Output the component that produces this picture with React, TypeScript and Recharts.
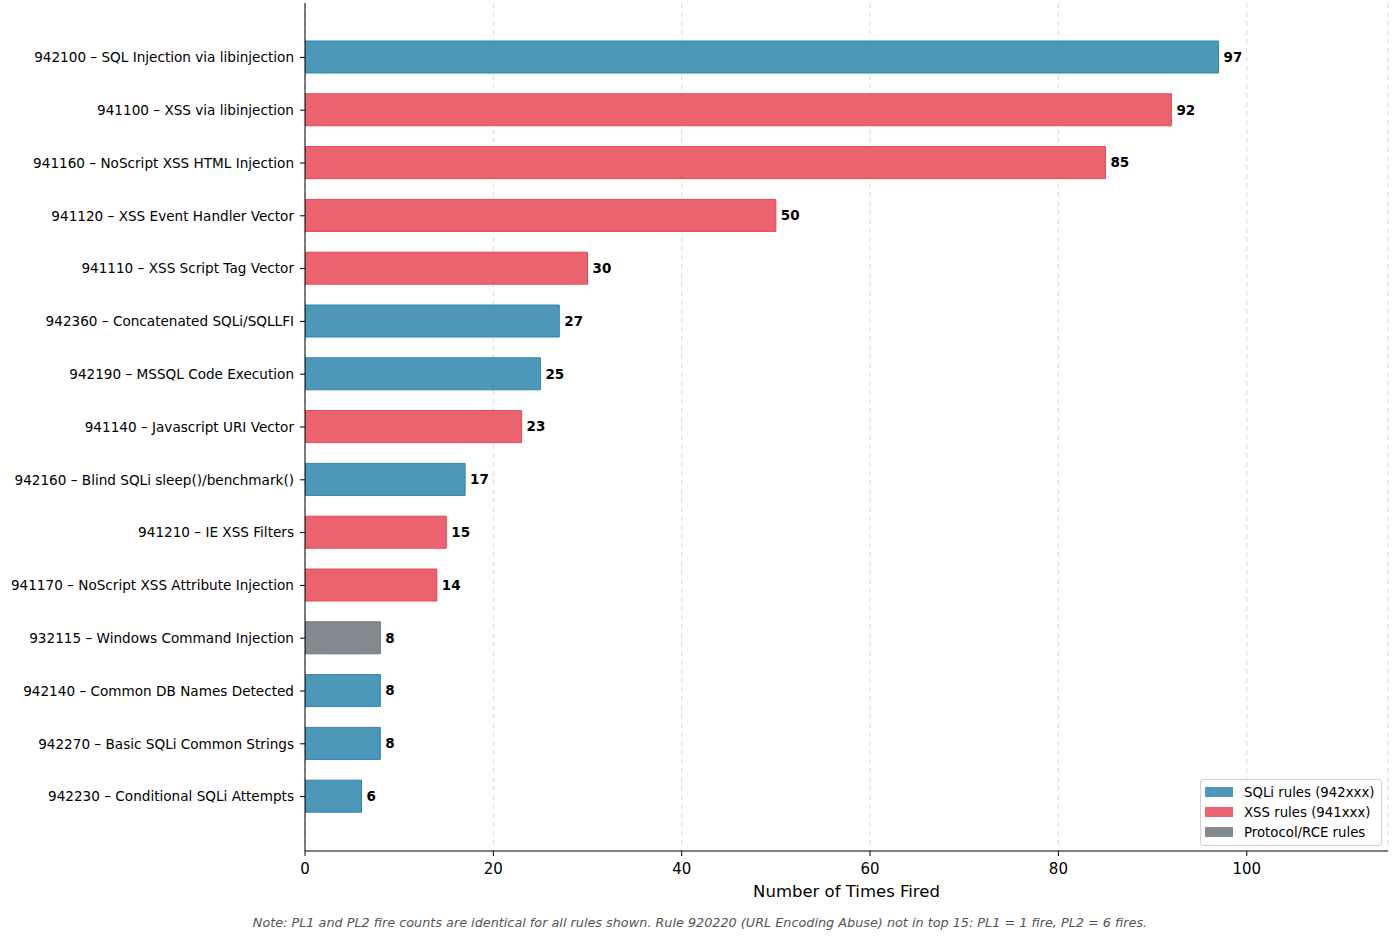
import React from 'react';
import { BarChart, Bar, XAxis, YAxis, CartesianGrid, Cell, LabelList } from 'recharts';

const ruleLabels = [
  '942100 – SQL Injection via libinjection',
  '941100 – XSS via libinjection',
  '941160 – NoScript XSS HTML Injection',
  '941120 – XSS Event Handler Vector',
  '941110 – XSS Script Tag Vector',
  '942360 – Concatenated SQLi/SQLLFI',
  '942190 – MSSQL Code Execution',
  '941140 – Javascript URI Vector',
  '942160 – Blind SQLi sleep()/benchmark()',
  '941210 – IE XSS Filters',
  '941170 – NoScript XSS Attribute Injection',
  '932115 – Windows Command Injection',
  '942140 – Common DB Names Detected',
  '942270 – Basic SQLi Common Strings',
  '942230 – Conditional SQLi Attempts',
];
const fireCounts = [97, 92, 85, 50, 30, 27, 25, 23, 17, 15, 14, 8, 8, 8, 6];
const ruleGroups = ['sqli', 'xss', 'xss', 'xss', 'xss', 'sqli', 'sqli', 'xss', 'sqli', 'xss', 'xss', 'rce', 'sqli', 'sqli', 'sqli'];
const xTicks = [0, 20, 40, 60, 80, 100];

const legendItems = [
  { key: 'sqli', name: 'SQLi rules (942xxx)', color: '#2E86AB' },
  { key: 'xss', name: 'XSS rules (941xxx)', color: '#E84855' },
  { key: 'rce', name: 'Protocol/RCE rules', color: '#6C757D' },
];

const colorOf = (g: string) => legendItems.find(l => l.key === g)!.color;

const data = ruleLabels.map((rule, i) => ({ rule, count: fireCounts[i], group: ruleGroups[i] }));

const FONT = '"DejaVu Sans", sans-serif';

const App: React.FC = () => {
  return (
    <div style={{ position: 'absolute', left: 0, top: 0, width: 1400, height: 941, background: '#fff', fontFamily: FONT }}>
      <BarChart
        width={1400}
        height={941}
        data={data}
        layout="vertical"
        margin={{ top: 3, right: 12, bottom: 0, left: 0 }}
      >
        <CartesianGrid horizontal={false} stroke="#b0b0b0" strokeOpacity={0.45} strokeDasharray="5 4" />
        <XAxis
          type="number"
          domain={[0, 115]}
          ticks={xTicks}
          allowDataOverflow
          height={90}
          stroke="#000"
          tick={{ fill: '#000', fontSize: 15, fontFamily: FONT }}
          tickSize={5}
          tickMargin={7}
          label={{ value: 'Number of Times Fired', position: 'insideTop', offset: 34, fill: '#000', fontSize: 16.5, fontFamily: FONT }}
        />
        <YAxis
          type="category"
          dataKey="rule"
          width={305}
          stroke="#000"
          tick={{ fill: '#000', fontSize: 13.6, fontFamily: FONT }}
          tickSize={5}
          tickMargin={6}
          padding={{ top: 28, bottom: 28 }}
          interval={0}
        />
        <Bar dataKey="count" barSize={32} isAnimationActive={false}>
          {data.map((d, i) => (
            <Cell key={i} fill={colorOf(d.group)} fillOpacity={0.85} stroke={colorOf(d.group)} strokeWidth={1} />
          ))}
          <LabelList
            dataKey="count"
            position="right"
            offset={5}
            style={{ fill: '#000', fontSize: 13.5, fontWeight: 'bold', fontFamily: FONT }}
          />
        </Bar>
      </BarChart>
      <div
        style={{
          position: 'absolute',
          left: 1200,
          top: 779,
          border: '1px solid #d0d0d0',
          borderRadius: 3,
          background: 'rgba(255,255,255,0.8)',
          padding: '2px 6px 3px 4px',
          fontSize: 13.3,
          color: '#000',
          fontFamily: FONT,
        }}
      >
        {legendItems.map(item => (
          <div key={item.key} style={{ display: 'flex', alignItems: 'center', height: 20 }}>
            <span style={{ display: 'inline-block', width: 28, height: 10, background: item.color, opacity: 0.85, marginRight: 11 }} />
            {item.name}
          </div>
        ))}
      </div>
      <div
        style={{
          position: 'absolute',
          left: 0,
          width: 1400,
          top: 915,
          textAlign: 'center',
          fontSize: 12.8,
          fontStyle: 'italic',
          color: '#555',
          fontFamily: FONT,
        }}
      >
        Note: PL1 and PL2 fire counts are identical for all rules shown. Rule 920220 (URL Encoding Abuse) not in top 15: PL1 = 1 fire, PL2 = 6 fires.
      </div>
    </div>
  );
};

export default App;
